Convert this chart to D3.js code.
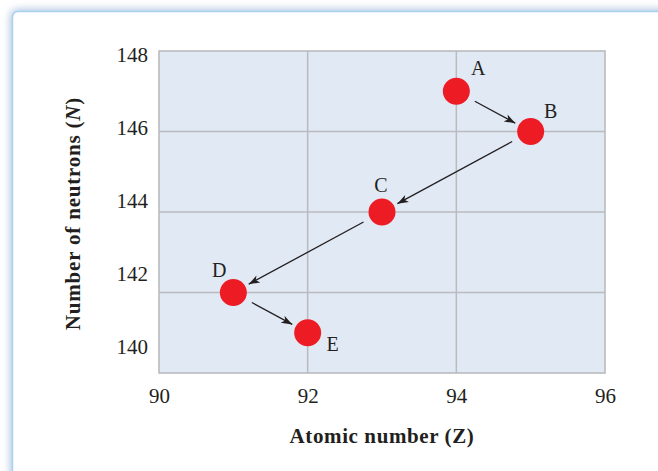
<!DOCTYPE html>
<html>
<head>
<meta charset="utf-8">
<script src="https://cdn.jsdelivr.net/npm/d3@7"></script>
<style>
  html, body { margin: 0; padding: 0; background: #ffffff; }
  svg { display: block; }
  text { font-family: "Palatino Linotype", "Book Antiqua", Palatino, "Liberation Serif", serif; fill: #231f20; }
</style>
</head>
<body>
<svg id="chart" width="658" height="471"></svg>
<script>
// ---- data ----
const pointLabels = ["A", "B", "C", "D", "E"];
const atomicNumbers = [94, 95, 93, 91, 92];    // Z
const neutronNumbers = [147, 146, 144, 142, 141]; // N
const xTicks = [90, 92, 94, 96];
const yTicks = [140, 142, 144, 146, 148];
const xTitle = "Atomic number (Z)";
const yTitleMain = "Number of neutrons (";
const yTitleItalic = "N";
const yTitleEnd = ")";

// ---- layout / style ----
const W = 658, H = 471;
const plot = { left: 159, right: 605, top: 51, bottom: 373 };
const labelOffsets = { A: [22, -23], B: [20, -21], C: [-1, -27], D: [-14, -23], E: [25, 11] };
const red = "#ed1c24";
const gridColor = "#b9bbbe";
const plotFill = "#e1e9f5";
const ink = "#231f20";
const serif = "'Palatino Linotype','Book Antiqua',Palatino,'Liberation Serif',serif";

const svg = d3.select("#chart");
const defs = svg.append("defs");

// frame shadow
const f = defs.append("filter").attr("id", "shadow")
  .attr("x", "-10%").attr("y", "-10%").attr("width", "120%").attr("height", "120%");
f.append("feDropShadow").attr("dx", -1).attr("dy", -1).attr("stdDeviation", 4.5)
  .attr("flood-color", "#98b2d8").attr("flood-opacity", 0.85);

// arrow marker
defs.append("marker").attr("id", "arrow")
  .attr("markerUnits", "userSpaceOnUse")
  .attr("viewBox", "-12 -6 14 12")
  .attr("markerWidth", 14).attr("markerHeight", 12)
  .attr("refX", 0).attr("refY", 0)
  .attr("orient", "auto")
  .append("path")
  .attr("d", "M0,0 L-11,-4 L-8,0 L-11,4 Z")
  .attr("fill", ink);

// outer frame
svg.append("path")
  .attr("d", `M12.5,${H + 20} L12.5,17.5 Q12.5,11.5 18.5,11.5 L${W + 20},11.5 L${W + 20},${H + 20} Z`)
  .attr("fill", "#ffffff")
  .attr("stroke", "#a7d3f1")
  .attr("stroke-width", 1.5)
  .attr("filter", "url(#shadow)");

// scales
const x = d3.scaleLinear().domain([90, 96]).range([plot.left, plot.right]);
const y = d3.scaleLinear().domain([140, 148]).range([plot.bottom, plot.top]);
// tick labels in the reference sit on their own evenly spaced positions
const yLabel = d3.scaleLinear().domain([140, 148]).range([346.5, 55]);

// plot background
svg.append("rect")
  .attr("x", x(90)).attr("y", y(148))
  .attr("width", x(96) - x(90)).attr("height", y(140) - y(148))
  .attr("fill", plotFill);

// gridlines
const g = svg.append("g");
g.selectAll("line.vx").data(xTicks.slice(1, -1)).join("line")
  .attr("x1", d => x(d)).attr("x2", d => x(d))
  .attr("y1", y(148)).attr("y2", y(140))
  .attr("stroke", gridColor).attr("stroke-width", 1.5);
g.selectAll("line.hy").data(yTicks.slice(1, -1)).join("line")
  .attr("x1", x(90)).attr("x2", x(96))
  .attr("y1", d => y(d)).attr("y2", d => y(d))
  .attr("stroke", gridColor).attr("stroke-width", 1.5);

// plot border
svg.append("rect")
  .attr("x", x(90)).attr("y", y(148))
  .attr("width", x(96) - x(90)).attr("height", y(140) - y(148))
  .attr("fill", "none").attr("stroke", gridColor).attr("stroke-width", 1.6);

// axes (labels only)
const xAxis = svg.append("g")
  .attr("transform", `translate(0,${plot.bottom})`)
  .call(d3.axisBottom(x).tickValues(xTicks).tickSize(0).tickPadding(15).tickFormat(d3.format("d")));
xAxis.select(".domain").remove();
xAxis.selectAll("text").attr("font-size", 21).style("fill", ink).attr("font-family", serif);

const yAxis = svg.append("g")
  .attr("transform", `translate(${plot.left},0)`)
  .call(d3.axisLeft(yLabel).tickValues(yTicks).tickSize(0).tickPadding(11).tickFormat(d3.format("d")));
yAxis.select(".domain").remove();
yAxis.selectAll("text").attr("font-size", 21).style("fill", ink).attr("font-family", serif);

// points data
const pts = pointLabels.map((l, i) => ({ label: l, z: atomicNumbers[i], n: neutronNumbers[i] }));

// arrows between consecutive points
const segs = d3.pairs(pts).map(([a, b]) => {
  const x0 = x(a.z), y0 = y(a.n), x1 = x(b.z), y1 = y(b.n);
  const dx = x1 - x0, dy = y1 - y0, L = Math.hypot(dx, dy);
  const ux = dx / L, uy = dy / L;
  return { x1: x0 + ux * 21, y1: y0 + uy * 21, x2: x1 - ux * 17.5, y2: y1 - uy * 17.5 };
});
svg.append("g").selectAll("line").data(segs).join("line")
  .attr("x1", d => d.x1).attr("y1", d => d.y1)
  .attr("x2", d => d.x2).attr("y2", d => d.y2)
  .attr("stroke", ink).attr("stroke-width", 1.3)
  .attr("marker-end", "url(#arrow)");

// circles
svg.append("g").selectAll("circle").data(pts).join("circle")
  .attr("cx", d => x(d.z)).attr("cy", d => y(d.n)).attr("r", 13.5)
  .attr("fill", red);

// point labels
svg.append("g").selectAll("text").data(pts).join("text")
  .attr("x", d => x(d.z) + labelOffsets[d.label][0])
  .attr("y", d => y(d.n) + labelOffsets[d.label][1])
  .attr("dy", "0.35em")
  .attr("text-anchor", "middle")
  .attr("font-size", 20)
  .text(d => d.label);

// axis titles
svg.append("text")
  .attr("x", (plot.left + plot.right) / 2)
  .attr("y", 443)
  .attr("text-anchor", "middle")
  .attr("font-size", 21)
  .attr("font-weight", "bold")
  .attr("letter-spacing", "0.6px")
  .text(xTitle);

const yt = svg.append("text")
  .attr("transform", `translate(80,${(plot.top + plot.bottom) / 2 + 1.5}) rotate(-90)`)
  .attr("text-anchor", "middle")
  .attr("font-size", 21)
  .attr("font-weight", "bold")
  .attr("letter-spacing", "0.8px");
yt.append("tspan").text(yTitleMain);
yt.append("tspan").attr("font-style", "italic").text(yTitleItalic);
yt.append("tspan").text(yTitleEnd);
</script>
</body>
</html>
